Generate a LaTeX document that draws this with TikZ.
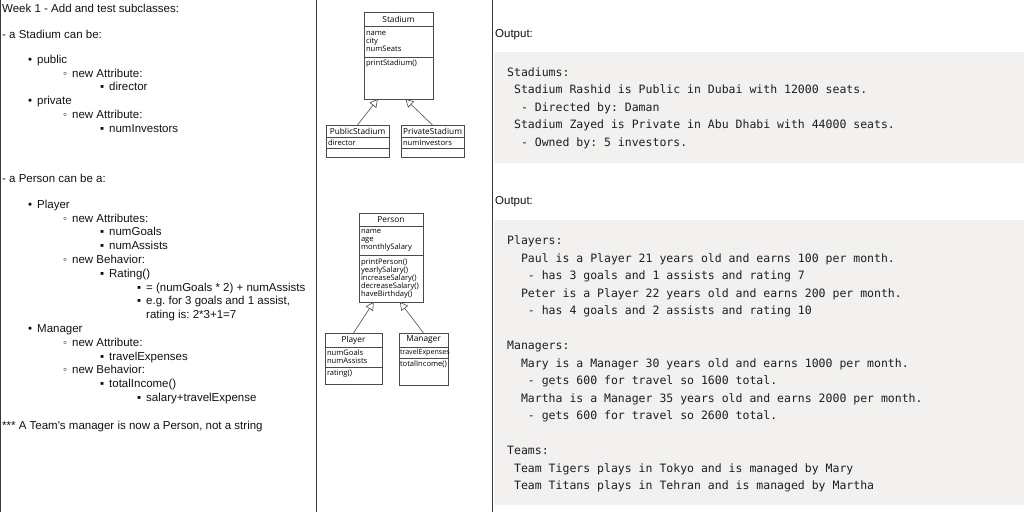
\documentclass[tikz,border=0pt]{standalone}
\usepackage{fontspec}
\setmainfont{Liberation Sans}
\setmonofont{DejaVu Sans Mono}
\newfontfamily\umlfont{Open Sans}
\usetikzlibrary{arrows.meta,positioning,calc}
\definecolor{ink}{HTML}{111111}
\definecolor{rule}{HTML}{3A3A3A}
\definecolor{umlline}{HTML}{4A4A4A}
\definecolor{codebg}{HTML}{F2F1F0}
\definecolor{code}{HTML}{1E1E1E}
\newcommand{\lvl}[2]{\hspace*{#1}\makebox[9pt][l]{#2}}

\begin{document}
\frenchspacing
\begin{tikzpicture}[x=1pt,y=-1pt,
 note/.style={inner sep=0pt,align=left,font=\fontsize{11.5}{13.8}\selectfont,text=ink},
 umlhead/.style={draw=umlline,fill=white,line width=.6pt,inner xsep=2pt,inner ysep=2pt,outer sep=0pt,text width=#1,align=center,font=\umlfont\fontsize{8.3}{8}\selectfont},
 umlpart/.style={umlhead=#1,align=left,font=\umlfont\fontsize{7.6}{8.2}\selectfont},
 inherit/.style={umlline,line width=.6pt,-{Triangle[fill=white,length=8pt,width=8.5pt]}},
 codebg/.style={fill=codebg,anchor=north west,inner sep=0pt,minimum width=530pt},
 codetext/.style={inner sep=0pt,align=left,text=code,font=\ttfamily\fontsize{11.5}{17.5}\selectfont},
 divider/.style={rule,line width=.8pt}]
 \useasboundingbox (0,0) rectangle (1024,512);
 % column rules
 \draw[divider] (0.5,0) -- (0.5,512);
 \draw[divider] (316,0) -- (316,512);
 \draw[divider] (492,0) -- (492,512);

 % left column: the task
 \node[note,anchor=base west] (week) at (2,12) {Week 1 - Add and test subclasses:};
 \node[note,anchor=base west] (stadhead) at (2,38) {- a Stadium can be:};
 \node[note,anchor=north west] (stadlist) at (2,54.7) {\lvl{26pt}{•}public\\
  \lvl{61pt}{◦}new Attribute:\\
  \lvl{98pt}{▪}director\\
  \lvl{26pt}{•}private\\
  \lvl{61pt}{◦}new Attribute:\\
  \lvl{98pt}{▪}numInvestors};
 \node[note,anchor=base west] (perhead) at (2,182) {- a Person can be a:};
 \node[note,anchor=north west] (perlist) at (2,199.7) {\lvl{26pt}{•}Player\\
  \lvl{61pt}{◦}new Attributes:\\
  \lvl{98pt}{▪}numGoals\\
  \lvl{98pt}{▪}numAssists\\
  \lvl{61pt}{◦}new Behavior:\\
  \lvl{98pt}{▪}Rating()\\
  \lvl{135pt}{▪}= (numGoals * 2) + numAssists\\
  \lvl{135pt}{▪}e.g. for 3 goals and 1 assist,\\
  \hspace*{144pt}rating is: 2*3+1=7\\
  \lvl{26pt}{•}Manager\\
  \lvl{61pt}{◦}new Attribute:\\
  \lvl{98pt}{▪}travelExpenses\\
  \lvl{61pt}{◦}new Behavior:\\
  \lvl{98pt}{▪}totalIncome()\\
  \lvl{135pt}{▪}salary+travelExpense};
 \node[note,anchor=base west] (teamnote) at (2,429) {*** A Team\textquotesingle s manager is now a Person, not a string};

 % middle column: class diagrams
 \node[umlhead=65pt,anchor=north west,minimum height=13.5pt] (stad) at (364,12.5) {Stadium};
 \node[umlpart=65pt,minimum height=31pt,below=0pt of stad] (stadA) {name\\city\\numSeats};
 \node[umlpart=65pt,text height=6pt,text depth=32pt,below=0pt of stadA] (stadM) {printStadium()};
 \node[umlhead=59pt,anchor=north west,minimum height=12pt] (pubstad) at (326,125) {PublicStadium};
 \node[umlpart=59pt,minimum height=11pt,below=0pt of pubstad] (pubstadA) {director};
 \node[umlpart=59pt,minimum height=9pt,below=0pt of pubstadA] (pubstadM) {};
 \node[umlhead=59pt,anchor=north west,minimum height=12pt] (privstad) at (401,125) {PrivateStadium};
 \node[umlpart=59pt,minimum height=11pt,below=0pt of privstad] (privstadA) {numInvestors};
 \node[umlpart=59pt,minimum height=9pt,below=0pt of privstadA] (privstadM) {};
 \draw[inherit] (pubstad.north) -- ($(stadM.south west)!.2!(stadM.south east)$);
 \draw[inherit] (privstad.north) -- ($(stadM.south west)!.6!(stadM.south east)$);

 \node[umlhead=60pt,anchor=north west,minimum height=13pt] (pers) at (359,213) {Person};
 \node[umlpart=60pt,minimum height=29pt,below=0pt of pers] (persA) {name\\age\\monthlySalary};
 \node[umlpart=60pt,minimum height=47pt,font=\umlfont\fontsize{7.6}{8}\selectfont,below=0pt of persA] (persM) {printPerson()\\yearlySalary()\\increaseSalary()\\decreaseSalary()\\haveBirthday()};
 \node[umlhead=53pt,anchor=north west,minimum height=14pt] (player) at (325,333) {Player};
 \node[umlpart=53pt,minimum height=20pt,below=0pt of player] (playerA) {numGoals\\numAssists};
 \node[umlpart=53pt,text height=6pt,text depth=7pt,below=0pt of playerA] (playerM) {rating()};
 \node[umlhead=47pt,inner xsep=1pt,anchor=north west,minimum height=14pt] (manager) at (399,333) {Manager};
 \node[umlpart=47pt,inner xsep=1pt,font=\umlfont\fontsize{7.1}{8}\selectfont,minimum height=10pt,below=0pt of manager] (managerA) {travelExpenses};
 \node[umlpart=47pt,inner xsep=1pt,text height=6pt,text depth=17pt,below=0pt of managerA] (managerM) {totalIncome()};
 \draw[inherit] (player.north) -- ($(persM.south west)!.23!(persM.south east)$);
 \draw[inherit] (manager.north) -- ($(persM.south west)!.64!(persM.south east)$);

 % right column: program output
 \node[note,anchor=base west] (out1) at (495,37) {Output:};
 \node[codebg,minimum height=111pt] (stadbg) at (494,52) {};
 \node[codetext,below right=15.5pt and 13pt of stadbg.north west] (stadout) {Stadiums:\\
  \phantom{x}Stadium Rashid is Public in Dubai with 12000 seats.\\
  \phantom{xx}- Directed by: Daman\\
  \phantom{x}Stadium Zayed is Private in Abu Dhabi with 44000 seats.\\
  \phantom{xx}- Owned by: 5 investors.};
 \node[note,anchor=base west] (out2) at (495,204) {Output:};
 \node[codebg,minimum height=285pt] (persbg) at (494,220) {};
 \node[codetext,below right=15.5pt and 13pt of persbg.north west] (persout) {Players:\\
  \phantom{xx}Paul is a Player 21 years old and earns 100 per month.\\
  \phantom{xxx}- has 3 goals and 1 assists and rating 7\\
  \phantom{xx}Peter is a Player 22 years old and earns 200 per month.\\
  \phantom{xxx}- has 4 goals and 2 assists and rating 10\\[17.5pt]
  Managers:\\
  \phantom{xx}Mary is a Manager 30 years old and earns 1000 per month.\\
  \phantom{xxx}- gets 600 for travel so 1600 total.\\
  \phantom{xx}Martha is a Manager 35 years old and earns 2000 per month.\\
  \phantom{xxx}- gets 600 for travel so 2600 total.\\[17.5pt]
  Teams:\\
  \phantom{x}Team Tigers plays in Tokyo and is managed by Mary\\
  \phantom{x}Team Titans plays in Tehran and is managed by Martha};
\end{tikzpicture}
\end{document}
